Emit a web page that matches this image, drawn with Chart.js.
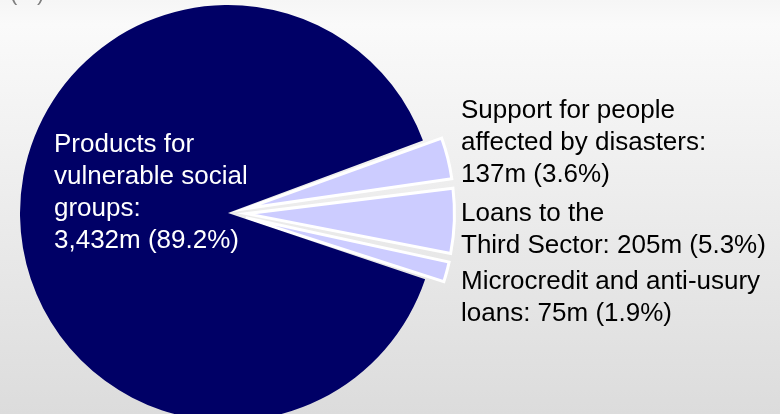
<!DOCTYPE html>
<html>
<head>
<meta charset="utf-8">
<script src="https://cdn.jsdelivr.net/npm/chart.js@4/dist/chart.umd.min.js"></script>
<style>
  html, body { margin: 0; padding: 0; overflow: hidden; }
  body {
    width: 780px; height: 414px;
    background: linear-gradient(to bottom, #f6f6f6 0%, #fafafa 6%, #dcdcdc 100%);
  }
  #wrap { position: absolute; left: 0; top: 0; width: 780px; height: 414px; }
</style>
</head>
<body>
<div id="wrap"><canvas id="chart" width="780" height="414"></canvas></div>
<script>
// Allocation by product line (millions of euro)
const categories = [
  'Support for people\naffected by disasters',
  'Loans to the\nThird Sector',
  'Microcredit and anti-usury\nloans',
  'Products for\nvulnerable social\ngroups'
];
const values = [137, 205, 75, 3432];
// whether the amount starts on its own line in the slice label
const amountOnNewLine = [true, false, false, true];
const unitLabel = '(%)';

const sliceColors = ['#ccccff', '#ccccff', '#ccccff', '#000066'];
const labelColors = ['#000000', '#000000', '#000000', '#ffffff'];
// text anchor (left x, first baseline y) for each slice label
const labelAnchors = [[461, 118], [461, 221], [461, 289], [54, 152]];
const LINE_H = 32;
const FONT = '26px "Liberation Sans", Arial, sans-serif';

const total = values.reduce((a, b) => a + b, 0);
const fmtAmount = v => v.toLocaleString('en-US') + 'm';
const fmtPct = v => (v / total * 100).toFixed(1) + '%';

function labelLines(i) {
  const lines = categories[i].split('\n');
  const amount = fmtAmount(values[i]) + ' (' + fmtPct(values[i]) + ')';
  lines[lines.length - 1] += ':';
  if (amountOnNewLine[i]) lines.push(amount);
  else lines[lines.length - 1] += ' ' + amount;
  return lines;
}

// Exploded arcs grow in radius when offset; pull them back to the pie radius.
const keepRadius = {
  id: 'keepRadius',
  afterDatasetUpdate(chart, args) {
    const ds = chart.data.datasets[args.index];
    const meta = chart.getDatasetMeta(args.index);
    meta.data.forEach((arc, i) => {
      const shift = (ds.offset[i] || 0) / 4;
      if (!shift) return;
      const fix = 1 - Math.sin(Math.min(Math.PI, arc.circumference));
      arc.outerRadius -= shift * fix;
    });
  }
};

const sliceLabels = {
  id: 'sliceLabels',
  afterDatasetsDraw(chart) {
    const ctx = chart.ctx;
    ctx.save();
    ctx.font = FONT;
    ctx.textBaseline = 'alphabetic';
    ctx.textAlign = 'left';
    values.forEach((v, i) => {
      const [x, y] = labelAnchors[i];
      ctx.fillStyle = labelColors[i];
      labelLines(i).forEach((line, k) => ctx.fillText(line, x, y + k * LINE_H));
    });
    ctx.font = '22px "Liberation Sans", Arial, sans-serif';
    ctx.fillStyle = '#7f7f7f';
    ctx.fillText(unitLabel, 10, 0);
    ctx.restore();
  }
};

new Chart(document.getElementById('chart'), {
  type: 'pie',
  data: {
    labels: categories.map(c => c.replace(/\n/g, ' ')),
    datasets: [{
      data: values,
      backgroundColor: sliceColors,
      borderColor: '#ffffff',
      borderWidth: [3, 3, 3, 0],
      borderJoinStyle: 'miter',
      offset: [74, 74, 74, 0],
      clip: false
    }]
  },
  options: {
    responsive: false,
    animation: false,
    events: [],
    rotation: 69.6,
    radius: 208,
    layout: { padding: { left: 0, right: 324, top: 12, bottom: 0 } },
    plugins: {
      legend: { display: false },
      tooltip: { enabled: false },
      title: { display: false }
    }
  },
  plugins: [keepRadius, sliceLabels]
});
</script>
</body>
</html>
